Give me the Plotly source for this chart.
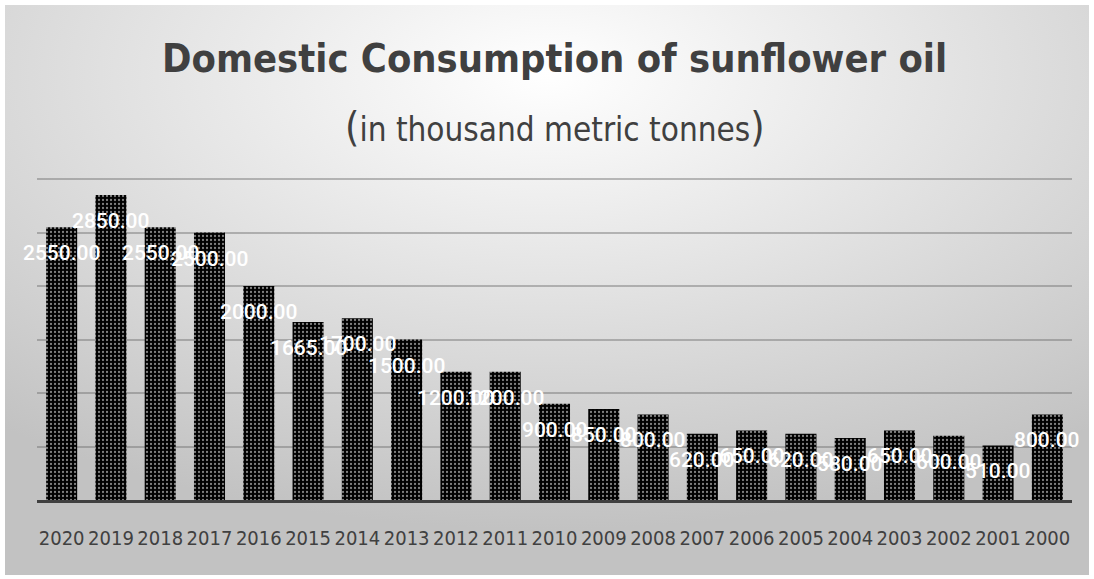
import base64
import plotly.graph_objects as go

years = ["2020", "2019", "2018", "2017", "2016", "2015", "2014", "2013", "2012", "2011", "2010",
         "2009", "2008", "2007", "2006", "2005", "2004", "2003", "2002", "2001", "2000"]
consumption = [2550, 2850, 2550, 2500, 2000, 1665, 1700, 1500, 1200, 1200, 900,
               850, 800, 620, 650, 620, 580, 650, 600, 510, 800]
label_texts = [f"{v:.2f}" for v in consumption]

W, H = 1094, 579
L, R, T, B = 37, 22, 178, 79
pw, ph = W - L - R, H - T - B

COND = "DejaVu Sans Condensed, Liberation Sans Narrow, Arial Narrow, Liberation Sans"

svg = f"""<svg xmlns='http://www.w3.org/2000/svg' width='{W}' height='{H}' viewBox='0 0 {W} {H}'>
<defs><radialGradient id='g' cx='50%' cy='12%' r='80%' fx='50%' fy='12%'>
<stop offset='0%' stop-color='#ffffff'/><stop offset='45%' stop-color='#e4e4e4'/>
<stop offset='100%' stop-color='#c2c2c2'/></radialGradient></defs>
<rect x='0' y='0' width='{W}' height='{H}' fill='#ffffff'/>
<rect x='5' y='5' width='{W-10}' height='{H-9}' fill='url(#g)'/>
</svg>"""
src = "data:image/svg+xml;base64," + base64.b64encode(svg.encode()).decode()

fig = go.Figure()
fig.add_trace(go.Bar(
    x=years, y=consumption,
    marker=dict(color="black", line=dict(width=0),
                pattern=dict(shape=".", fgcolor="white", bgcolor="black", size=4, solidity=0.25)),
    hoverinfo="skip",
))

# category index positions on the category axis
for i, (v, t) in enumerate(zip(consumption, label_texts)):
    fig.add_annotation(x=i, y=v, text=t, showarrow=False, yanchor="middle", yshift=-26,
                       font=dict(family="Roboto", size=21, color="white", weight=500))

fig.add_annotation(xref="paper", yref="paper", x=0.5, y=1 + (T - 58) / ph, yanchor="middle",
                   text="<b>Domestic Consumption of sunflower oil</b>", showarrow=False,
                   font=dict(family=COND, size=39.5, color="#404040"))
fig.add_annotation(xref="paper", yref="paper", x=0.5, y=1 + (T - 127) / ph, yanchor="middle",
                   text="<span style='font-size:41px'>(</span>in thousand metric tonnes<span style='font-size:41px'>)</span>",
                   showarrow=False,
                   font=dict(family=COND, size=33, color="#404040"))

fig.add_layout_image(dict(source=src, xref="paper", yref="paper", x=-L / pw, y=1 + T / ph,
                          sizex=W / pw, sizey=H / ph, xanchor="left", yanchor="top",
                          sizing="stretch", layer="below"))

fig.update_layout(
    width=W, height=H,
    margin=dict(l=L, r=R, t=T, b=B, autoexpand=False),
    paper_bgcolor="white", plot_bgcolor="rgba(0,0,0,0)",
    bargap=0.37, showlegend=False,
    xaxis=dict(type="category", range=[-0.5, len(years) - 0.5], showgrid=False, showline=True,
               linecolor="#404040", linewidth=3, automargin=False, tickangle=0,
               tickfont=dict(family=COND, size=20, color="#404040"),
               ticks="", ticklabelstandoff=18),
    yaxis=dict(range=[0, 3010], tick0=0, dtick=500, showgrid=True, gridcolor="rgba(110,110,110,0.45)",
               gridwidth=2, showticklabels=False, zeroline=False, ticks="", automargin=False),
)

fig.write_html("out.html", config={"displayModeBar": False},
               post_script="document.body.style.margin='0';document.body.style.overflow='hidden';")
